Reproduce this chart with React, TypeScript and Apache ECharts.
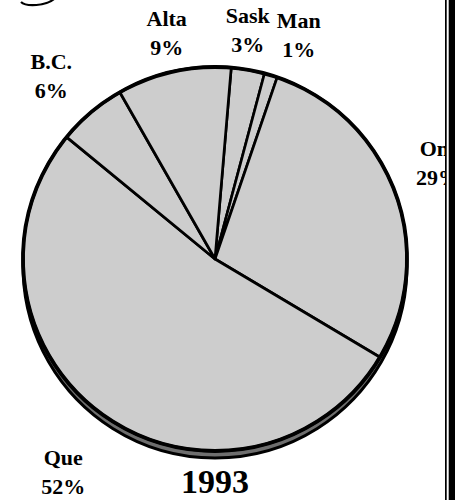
import React, { useEffect, useRef } from "react";
import * as echarts from "echarts";

// Provinces in clockwise order starting just right of 12 o'clock
const provinces = ["Sask", "Man", "Ont", "Que", "B.C.", "Alta"];
// Slice shares (percent)
const shares = [2.8, 1.1, 28.3, 52.4, 5.8, 9.6];
// Printed (rounded) percentages
const shareLabels = ["3%", "1%", "29%", "52%", "6%", "9%"];
const yearLabel = "1993";

// label nudges (px) from the label ring, layout only
const labelNudge: [number, number][] = [
  [-9, 10],
  [13, 8],
  [-5, -12],
  [-12, 14],
  [-7, 3],
  [4, 11],
];

const FONT = "'Liberation Serif', 'Times New Roman', serif";

export default function App() {
  const ref = useRef<HTMLDivElement>(null);
  useEffect(() => {
    if (!ref.current) return;
    const chart = echarts.init(ref.current, null, { renderer: "svg" });
    const data = provinces.map((name, i) => ({ name, value: shares[i] }));
    const center = [215, 259];
    const startAngle = 85.15;
    const R = 192;
    chart.setOption({
      animation: false,
      backgroundColor: "#ffffff",
      series: [
        {
          type: "pie",
          center: [center[0], center[1] + 7],
          radius: R,
          silent: true,
          z: 1,
          label: { show: false },
          labelLine: { show: false },
          emphasis: { disabled: true },
          itemStyle: { color: "#6e6e6e", borderColor: "#000", borderWidth: 3 },
          data: [{ name: "shadow", value: 1 }],
        },
        {
          type: "pie",
          center,
          radius: R,
          startAngle,
          clockwise: true,
          silent: true,
          z: 2,
          label: { show: false },
          labelLine: { show: false },
          emphasis: { disabled: true },
          itemStyle: { color: "#cdcdcd", borderColor: "#000", borderWidth: 2.7 },
          data,
        },
        {
          type: "pie",
          center,
          radius: R,
          silent: true,
          z: 3,
          label: { show: false },
          labelLine: { show: false },
          emphasis: { disabled: true },
          itemStyle: { color: "rgba(0,0,0,0)", borderColor: "#000", borderWidth: 3.8 },
          data: [{ name: "rim", value: 1 }],
        },
        {
          type: "pie",
          center,
          radius: [220, 260],
          startAngle,
          clockwise: true,
          silent: true,
          z: 4,
          emphasis: { disabled: true },
          itemStyle: { color: "rgba(0,0,0,0)", borderWidth: 0 },
          labelLine: { show: false },
          label: {
            show: true,
            position: "inside",
            formatter: (p: any) => `${p.name}\n${shareLabels[p.dataIndex]}`,
            fontFamily: FONT,
            fontWeight: "bold",
            fontSize: 22,
            lineHeight: 29,
            color: "#000",
            align: "center",
          },
          labelLayout: (p: any) => {
            const o = labelNudge[p.dataIndex];
            return { dx: o[0], dy: o[1] };
          },
          data,
        },
      ],
      graphic: [
        {
          type: "text",
          z: 50,
          style: {
            text: yearLabel,
            x: 215,
            y: 481,
            align: "center",
            verticalAlign: "middle",
            font: `bold 34px ${FONT}`,
            fill: "#000",
          },
        },
        {
          type: "bezierCurve",
          z: 50,
          shape: { x1: 21, y1: 2, cpx1: 26, cpy1: 7, cpx2: 46, cpy2: 6, x2: 54, y2: -1 },
          style: { stroke: "#000", lineWidth: 2.2, fill: "none" },
        },
        {
          type: "rect",
          z: 100,
          shape: { x: 445, y: 0, width: 14, height: 500 },
          style: { fill: "#fff" },
        },
        {
          type: "rect",
          z: 101,
          shape: { x: 445, y: 0, width: 1.7, height: 500 },
          style: { fill: "#000" },
        },
        {
          type: "rect",
          z: 101,
          shape: { x: 448.7, y: 0, width: 6.3, height: 500 },
          style: { fill: "#000" },
        },
      ],
    });
    return () => chart.dispose();
  }, []);
  return (
    <div
      ref={ref}
      style={{ position: "absolute", left: 0, top: 0, width: 459, height: 500 }}
    />
  );
}
